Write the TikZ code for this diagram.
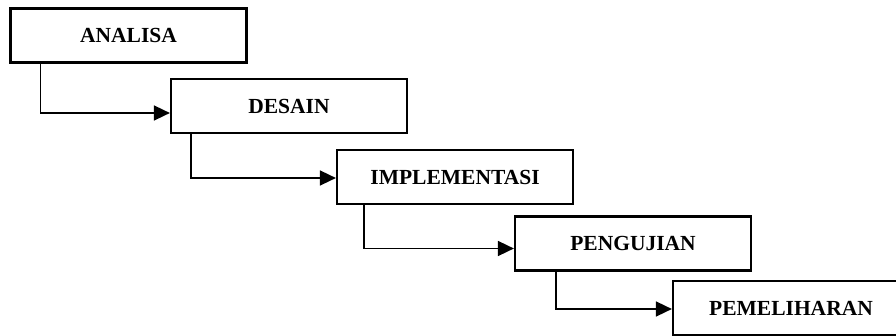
\documentclass[tikz,border=0pt]{standalone}
\usepackage{fontspec}
\setmainfont{Liberation Serif}
\usetikzlibrary{arrows.meta}
\begin{document}
\begin{tikzpicture}[x=1pt,y=-1pt,
  phase/.style={draw, line width=2.2pt, minimum width=236pt, minimum height=54pt, inner sep=0pt, font=\fontsize{21.5}{24}\selectfont\bfseries},
  flow/.style={line width=1.6pt, -{Triangle[length=16pt,width=15pt]}}]
\clip (0,0) rectangle (896,336);
% Tahapan
\node[phase] (analisa) at (128.5,35.5) {ANALISA};
\node[phase] (desain) at (289,106) {DESAIN};
\node[phase] (implementasi) at (455,177) {IMPLEMENTASI};
\node[phase] (pengujian) at (633,243.5) {PENGUJIAN};
\node[phase] (pemeliharan) at (791,308) {PEMELIHARAN};

% Alur
\draw[flow] ([xshift=31pt]analisa.south west) |- ([yshift=-7pt]desain.west);
\draw[flow] ([xshift=21pt]desain.south west) |- ([yshift=-1pt]implementasi.west);
\draw[flow] ([xshift=28pt]implementasi.south west) |- ([yshift=-5pt]pengujian.west);
\draw[flow] ([xshift=42pt]pengujian.south west) |- ([yshift=-1pt]pemeliharan.west);
\end{tikzpicture}
\end{document}
